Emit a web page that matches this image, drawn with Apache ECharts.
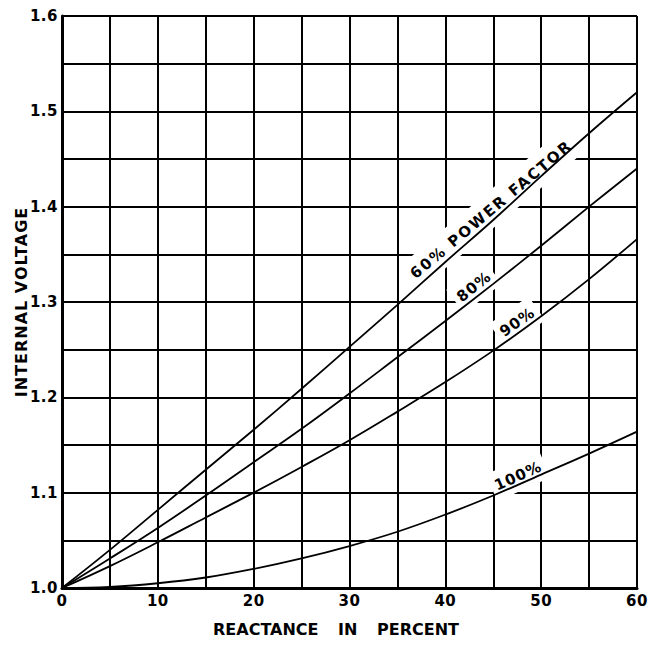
<!DOCTYPE html>
<html>
<head>
<meta charset="utf-8">
<script src="https://cdn.jsdelivr.net/npm/echarts@6/dist/echarts.min.js"></script>
<style>
html,body{margin:0;padding:0;background:#fff;}
#c{width:659px;height:645px;}
</style>
</head>
<body>
<div id="c"></div>
<script>
// Data
var reactance = [0, 5, 10, 15, 20, 25, 30, 35, 40, 45, 50, 55, 60];
var pf60  = [1.000, 1.040, 1.082, 1.124, 1.166, 1.209, 1.253, 1.297, 1.342, 1.386, 1.432, 1.477, 1.520];
var pf80  = [1.000, 1.031, 1.063, 1.097, 1.132, 1.167, 1.204, 1.242, 1.280, 1.319, 1.359, 1.400, 1.440];
var pf90  = [1.000, 1.023, 1.048, 1.074, 1.100, 1.127, 1.155, 1.185, 1.216, 1.249, 1.285, 1.324, 1.366];
var pf100 = [1.000, 1.0012, 1.005, 1.011, 1.020, 1.031, 1.044, 1.059, 1.077, 1.097, 1.119, 1.141, 1.164];
var curveLabels = ['60% POWER FACTOR', '80%', '90%', '100%'];
var xLabelTicks = [0, 10, 20, 30, 40, 50, 60];
var yLabelTicks = ['1.0', '1.1', '1.2', '1.3', '1.4', '1.5', '1.6'];
var xTitle = 'REACTANCE IN PERCENT';
var yTitle = 'INTERNAL VOLTAGE';

// label anchors (data coordinates), rotation (deg)
var labelAnchors = [[44.8, 1.397, 40], [43.0, 1.316, 38], [47.5, 1.279, 35], [47.6, 1.1175, 24]];
var labelSpacing = [2, 1, 1, 1];
var labelPad = [[8, 20, 8, 20], [7, 6, 7, 6], [7, 6, 7, 6], [7, 6, 7, 6]];

function pairs(ys){ return reactance.map(function(x,i){ return [x, ys[i]]; }); }

var FONT = '"DejaVu Sans", sans-serif';
var chart = echarts.init(document.getElementById('c'), null, {renderer:'svg'});
var lineStyle = {color:'#000', width:1.8};
function mkSeries(ys){
  return {type:'line', data:pairs(ys), smooth:0.4, showSymbol:false, symbol:'none',
          lineStyle:lineStyle, z:3, silent:true, animation:false};
}
chart.setOption({
  animation:false,
  backgroundColor:'#fff',
  grid:{left:62, right:22, top:16, bottom:57, containLabel:false, outerBoundsMode:'none'},
  xAxis:{type:'value', min:0, max:60, interval:5,
    axisLine:{show:true, onZero:false, lineStyle:{color:'#000', width:3}},
    axisTick:{show:false},
    splitLine:{show:true, lineStyle:{color:'#000', width:2}},
    axisLabel:{color:'#000', fontFamily:FONT, fontWeight:'bold', fontSize:15, margin:5,
      formatter:function(v){ return xLabelTicks.indexOf(v) >= 0 ? String(v) : ''; }},
    name:xTitle, nameLocation:'middle', nameGap:33, nameMoveOverlap:false,
    nameTextStyle:{color:'#000', fontFamily:FONT, fontWeight:'bold', fontSize:16, padding:[0, 27, 0, 0]}
  },
  yAxis:{type:'value', min:1.0, max:1.6, interval:0.05,
    axisLine:{show:true, onZero:false, lineStyle:{color:'#000', width:3}},
    axisTick:{show:false},
    splitLine:{show:true, lineStyle:{color:'#000', width:2}},
    axisLabel:{color:'#000', fontFamily:FONT, fontWeight:'bold', fontSize:15, margin:4,
      formatter:function(v){ var s = v.toFixed(2); return s.charAt(3)==='0' ? yLabelTicks[Math.round((v-1)*10)] : ''; }},
    name:yTitle, nameLocation:'middle', nameGap:33, nameMoveOverlap:false,
    nameTextStyle:{color:'#000', fontFamily:FONT, fontWeight:'bold', fontSize:16}
  },
  series:[mkSeries(pf60), mkSeries(pf80), mkSeries(pf90), mkSeries(pf100)]
});

var g = labelAnchors.map(function(a, i){
  var p = chart.convertToPixel({gridIndex:0}, [a[0], a[1]]);
  return {type:'text', x:p[0], y:p[1], rotation:a[2]*Math.PI/180, z:1, silent:true,
    style:{text:curveLabels[i], fill:'#000', font:'bold 15px ' + FONT, align:'center', verticalAlign:'middle',
      backgroundColor:'#fff', padding:labelPad[i]}};
});
chart.setOption({graphic:g});

function styleTexts(){
  var ts = document.querySelectorAll('#c svg text');
  ts.forEach(function(t){
    var s = t.textContent;
    var idx = curveLabels.indexOf(s);
    if (idx >= 0) { t.style.letterSpacing = labelSpacing[idx] + 'px'; }
    else if (s === xTitle) { t.style.wordSpacing = '14px'; }
    else if (s === yTitle) { t.style.letterSpacing = '1px'; }
    else { t.style.letterSpacing = '0.5px'; }
  });
}
styleTexts();
chart.on('finished', styleTexts);
setTimeout(styleTexts, 0);
setTimeout(styleTexts, 100);
requestAnimationFrame(function(){ styleTexts(); requestAnimationFrame(styleTexts); });
</script>
</body>
</html>
